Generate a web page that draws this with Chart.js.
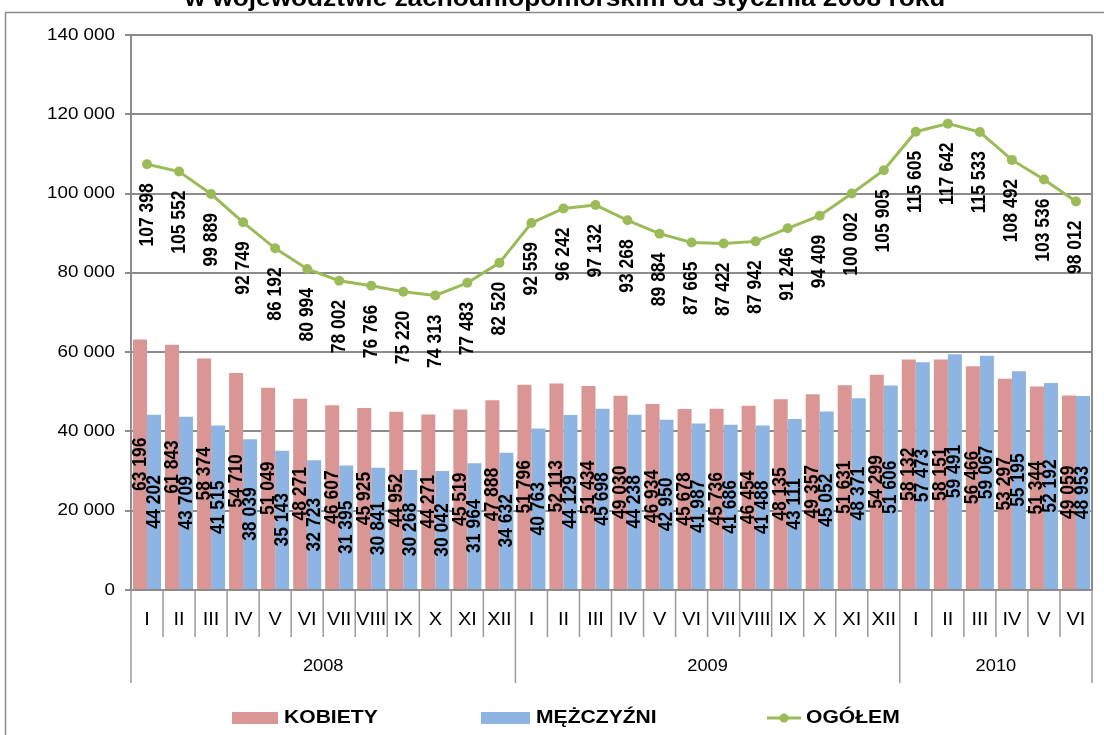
<!DOCTYPE html>
<html>
<head>
  <meta charset="utf-8">
  <title>Bezrobotni w województwie zachodniopomorskim</title>
  <script src="https://cdn.jsdelivr.net/npm/chart.js"></script>
  <style>
    body { margin: 0; background: #fff; }
    #wrap { width: 1104px; height: 735px; }
  </style>
</head>
<body>
  <div id="wrap"><canvas id="chart"></canvas></div>

  <script>
    // months and years on the x axis
    const monthNames = ['I', 'II', 'III', 'IV', 'V', 'VI', 'VII', 'VIII', 'IX', 'X', 'XI', 'XII'];
    const yearLabels = ['2008', '2009', '2010'];
    const yearMonths = [12, 12, 6];

    // series
    const kobiety = [63196, 61843, 58374, 54710, 51049, 48271, 46607, 45925, 44952, 44271, 45519, 47888,
                     51796, 52113, 51434, 49030, 46934, 45678, 45736, 46454, 48135, 49357, 51631, 54299,
                     58132, 58151, 56466, 53297, 51344, 49059];
    const mezczyzni = [44202, 43709, 41515, 38039, 35143, 32723, 31395, 30841, 30268, 30042, 31964, 34632,
                       40763, 44129, 45698, 44238, 42950, 41987, 41686, 41488, 43111, 45052, 48371, 51606,
                       57473, 59491, 59067, 55195, 52192, 48953];
    const ogolem = [107398, 105552, 99889, 92749, 86192, 80994, 78002, 76766, 75220, 74313, 77483, 82520,
                    92559, 96242, 97132, 93268, 89884, 87665, 87422, 87942, 91246, 94409, 100002, 105905,
                    115605, 117642, 115533, 108492, 103536, 98012];

    const titleText = 'w województwie zachodniopomorskim od stycznia 2008 roku';
    const legendNames = ['KOBIETY', 'MĘŻCZYŹNI', 'OGÓŁEM'];

    const PINK = '#d99694';
    const BLUE = '#8eb4e3';
    const GREEN = '#9bbb59';
    const GRID = '#8c8c8c';
    const FONT = '"Liberation Sans", Arial, sans-serif';
    const SX = 1.14; // the original picture is a bit wider than tall

    // category labels, one per month
    const labels = [];
    yearLabels.forEach((y, i) => {
      for (let m = 0; m < yearMonths[i]; m++) labels.push(monthNames[m]);
    });

    function fmt(v) {
      return String(v).replace(/\B(?=(\d{3})+(?!\d))/g, ' ');
    }

    // draws text stretched horizontally like the original
    function wideText(ctx, text, x, y) {
      ctx.save();
      ctx.translate(x, y);
      ctx.scale(SX, 1);
      ctx.fillText(text, 0, 0);
      ctx.restore();
    }

    // vertical text, reading upwards
    function upText(ctx, text, x, y, align) {
      ctx.save();
      ctx.translate(x, y);
      ctx.scale(SX, 1);
      ctx.rotate(-Math.PI / 2);
      ctx.textAlign = align;
      ctx.textBaseline = 'middle';
      ctx.fillText(text, 0, 0);
      ctx.restore();
    }

    const decor = {
      id: 'decor',
      beforeDraw(chart) {
        const ctx = chart.ctx;
        ctx.save();
        // outer frame
        ctx.strokeStyle = '#8a8a8a';
        ctx.lineWidth = 1.5;
        ctx.strokeRect(5.5, 12.5, 1200, 800);
        // title, cut by the top edge
        ctx.fillStyle = '#000';
        ctx.font = 'bold 23px ' + FONT;
        ctx.textAlign = 'center';
        ctx.textBaseline = 'alphabetic';
        wideText(ctx, titleText, 565, 6);
        ctx.restore();
      },
      afterDraw(chart) {
        const ctx = chart.ctx;
        const area = chart.chartArea;
        const x = chart.scales.x;
        const y = chart.scales.y;
        ctx.save();

        // right edge of the plot
        ctx.strokeStyle = GRID;
        ctx.lineWidth = 2;
        ctx.beginPath();
        ctx.moveTo(area.right, area.top);
        ctx.lineTo(area.right, area.bottom);
        ctx.stroke();

        // y tick labels
        ctx.fillStyle = '#000';
        ctx.font = '16.5px ' + FONT;
        ctx.textAlign = 'right';
        ctx.textBaseline = 'middle';
        y.ticks.forEach(t => {
          wideText(ctx, fmt(t.value), 115, y.getPixelForValue(t.value));
        });

        // month / year boxes under the axis
        const n = labels.length;
        const cw = (area.right - area.left) / n;
        const yearEnds = [0];
        yearMonths.reduce((s, c) => { yearEnds.push(s + c); return s + c; }, 0);
        ctx.strokeStyle = '#9a9a9a';
        ctx.lineWidth = 1.5;
        for (let i = 0; i <= n; i++) {
          const px = area.left + i * cw;
          const bottom = yearEnds.includes(i) ? 683 : 637;
          ctx.beginPath();
          ctx.moveTo(px, area.bottom);
          ctx.lineTo(px, bottom);
          ctx.stroke();
        }
        ctx.textAlign = 'center';
        ctx.font = '17.5px ' + FONT;
        labels.forEach((l, i) => {
          wideText(ctx, l, x.getPixelForValue(i), 620);
        });
        ctx.font = '16px ' + FONT;
        yearLabels.forEach((l, i) => {
          const px = area.left + (yearEnds[i] + yearEnds[i + 1]) / 2 * cw;
          wideText(ctx, l, px, 667);
        });

        // value labels
        ctx.font = 'bold 17.5px ' + FONT;
        ctx.fillStyle = '#000';
        chart.data.datasets.forEach((ds, di) => {
          const meta = chart.getDatasetMeta(di);
          meta.data.forEach((el, i) => {
            const txt = fmt(ds.data[i]);
            if (ds.type === 'line') {
              upText(ctx, txt, el.x, el.y + 19, 'right');
            } else {
              upText(ctx, txt, el.x, (el.y + el.base) / 2, 'center');
            }
          });
        });

        // legend
        const ly = 718;
        ctx.font = 'bold 18.5px ' + FONT;
        ctx.textAlign = 'left';
        ctx.textBaseline = 'middle';
        ctx.fillStyle = PINK;
        ctx.fillRect(232, ly - 6, 46, 12);
        ctx.fillStyle = '#000';
        wideText(ctx, legendNames[0], 284, ly);
        ctx.fillStyle = BLUE;
        ctx.fillRect(481, ly - 6, 49, 12);
        ctx.fillStyle = '#000';
        wideText(ctx, legendNames[1], 536, ly);
        ctx.strokeStyle = GREEN;
        ctx.lineWidth = 3;
        ctx.beginPath();
        ctx.moveTo(767, ly);
        ctx.lineTo(801, ly);
        ctx.stroke();
        ctx.fillStyle = GREEN;
        ctx.beginPath();
        ctx.arc(784, ly, 4.5, 0, Math.PI * 2);
        ctx.fill();
        ctx.fillStyle = '#000';
        wideText(ctx, legendNames[2], 806, ly);

        ctx.restore();
      }
    };

    new Chart(document.getElementById('chart'), {
      data: {
        labels: labels,
        datasets: [
          {
            type: 'line',
            label: legendNames[2],
            data: ogolem,
            borderColor: GREEN,
            backgroundColor: GREEN,
            borderWidth: 3,
            pointRadius: 5,
            pointBackgroundColor: GREEN,
            pointBorderWidth: 0,
            tension: 0,
            order: 0
          },
          {
            type: 'bar',
            label: legendNames[0],
            data: kobiety,
            backgroundColor: PINK,
            categoryPercentage: 0.875,
            barPercentage: 1,
            order: 1
          },
          {
            type: 'bar',
            label: legendNames[1],
            data: mezczyzni,
            backgroundColor: BLUE,
            categoryPercentage: 0.875,
            barPercentage: 1,
            order: 1
          }
        ]
      },
      options: {
        responsive: true,
        maintainAspectRatio: false,
        animation: false,
        layout: { padding: { left: 0, top: 35, right: 12, bottom: 0 } },
        plugins: {
          legend: { display: false },
          tooltip: { enabled: false }
        },
        scales: {
          x: {
            grid: { display: false },
            ticks: { display: false },
            border: { display: true, color: GRID, width: 2 },
            afterFit(s) { s.height = 145; }
          },
          y: {
            min: 0,
            max: 140000,
            ticks: { display: false, stepSize: 20000 },
            grid: { color: GRID, lineWidth: 2, tickLength: 6, drawTicks: true },
            border: { display: true, color: GRID, width: 2 },
            afterFit(s) { s.width = 131; }
          }
        }
      },
      plugins: [decor]
    });
  </script>
</body>
</html>
